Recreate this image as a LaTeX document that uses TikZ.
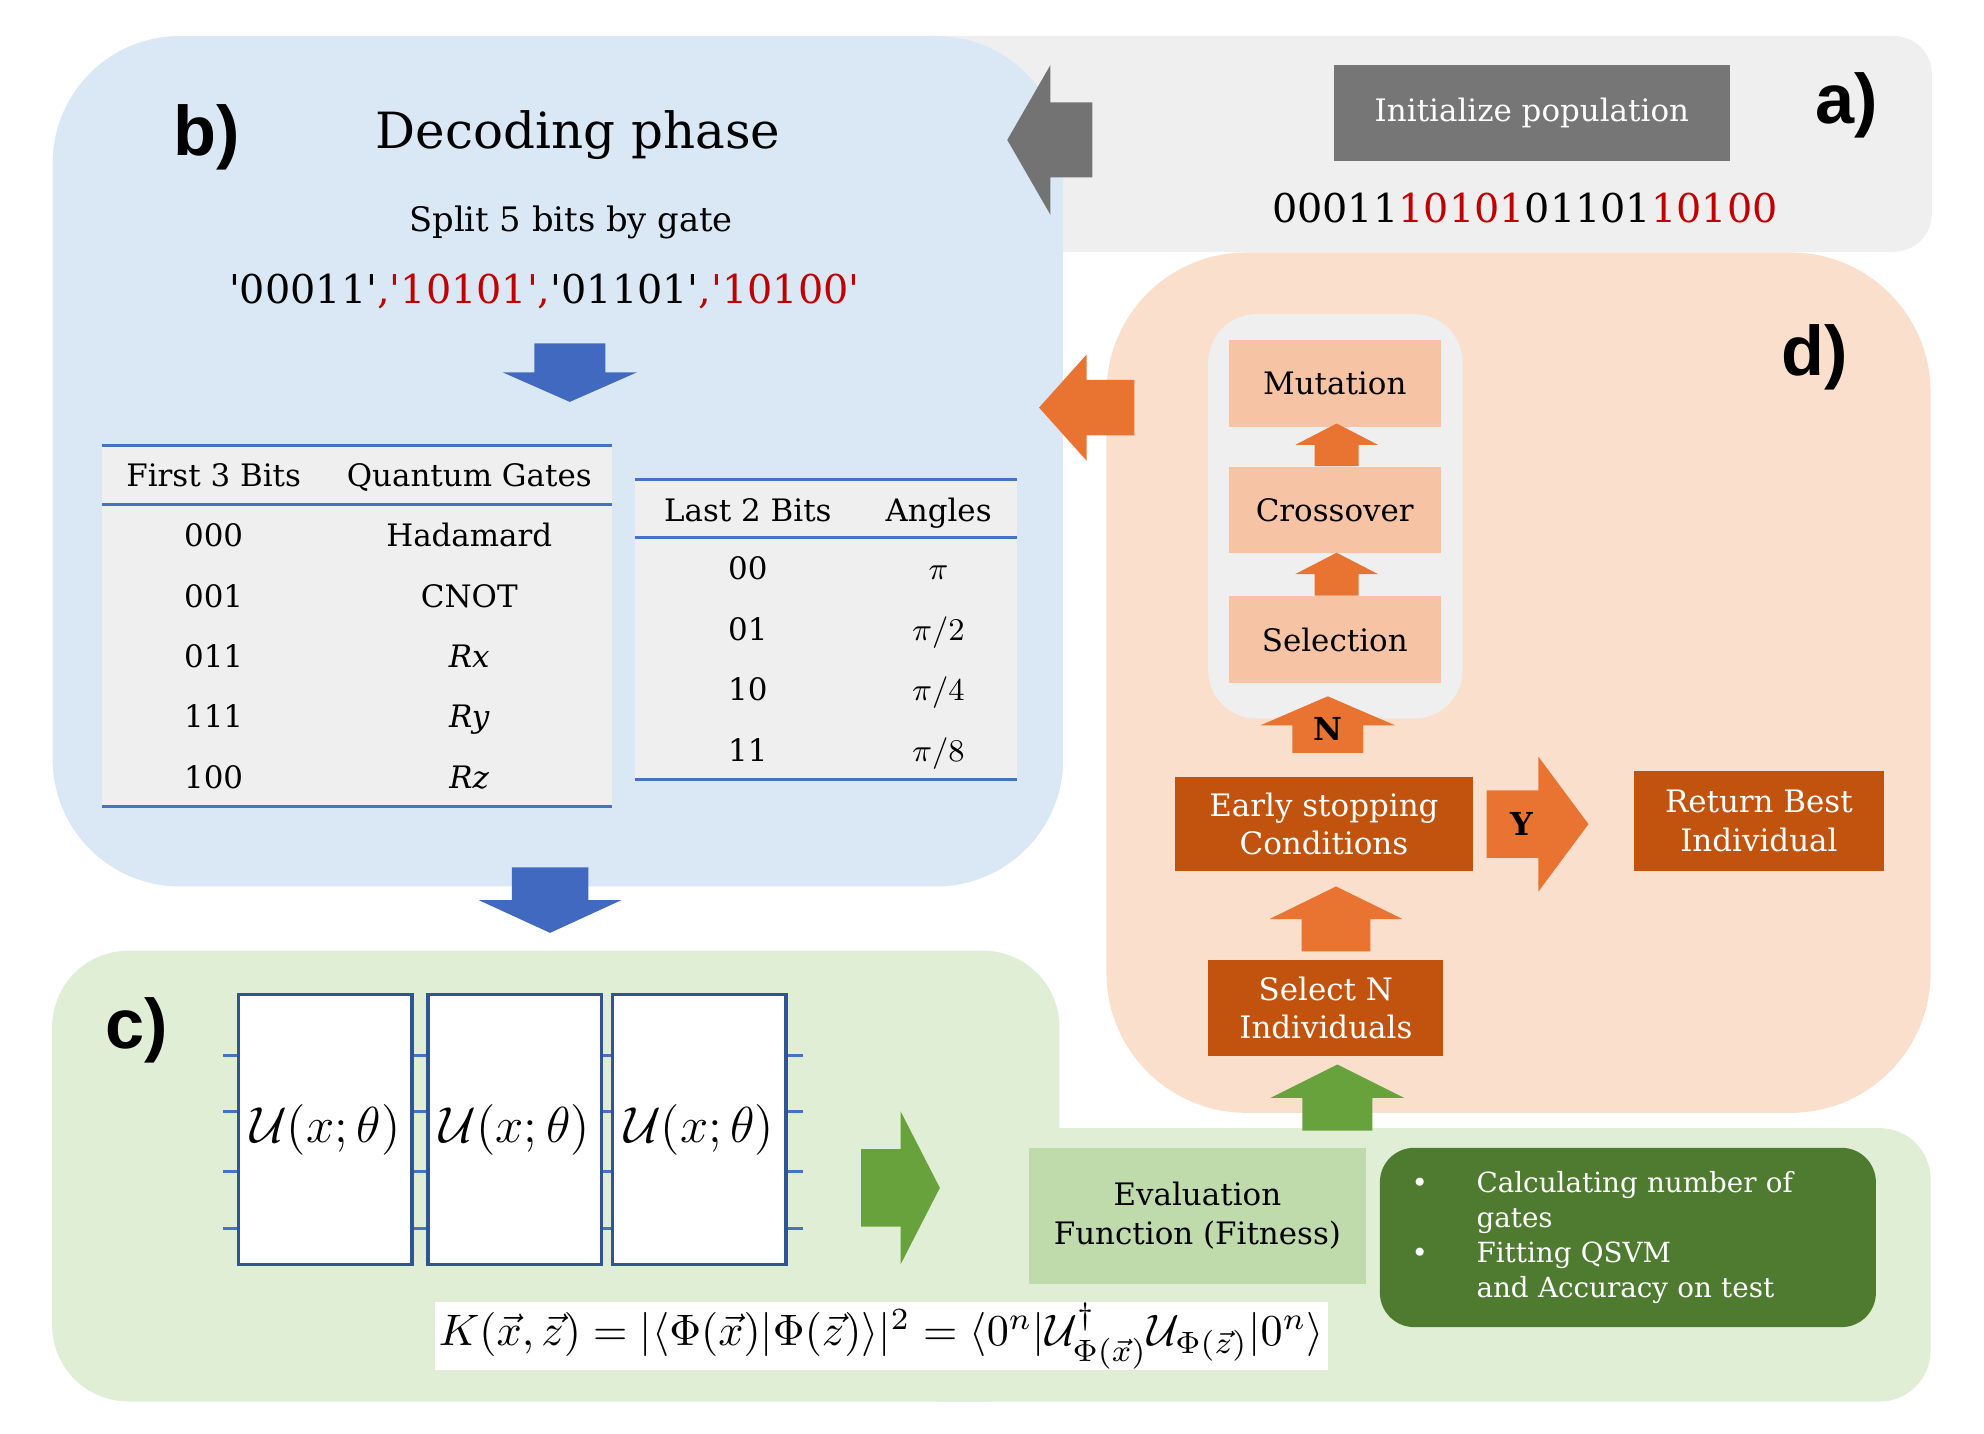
\documentclass[tikz,border=0pt]{standalone}
\usepackage[no-math]{fontspec}
\setmainfont{DejaVu Serif}
\setsansfont{Liberation Sans}
\usepackage{graphicx}
\usetikzlibrary{shapes.arrows,positioning}

\definecolor{graybg}{HTML}{EFEFEF}
\definecolor{bluebg}{HTML}{DAE8F5}
\definecolor{orangebg}{HTML}{FADFCD}
\definecolor{greenbg}{HTML}{E0EED6}
\definecolor{initgray}{HTML}{767676}
\definecolor{grayarrow}{HTML}{737373}
\definecolor{bitred}{HTML}{C00000}
\definecolor{bluearrow}{HTML}{4169BF}
\definecolor{rulecol}{HTML}{4472C4}
\definecolor{circblue}{HTML}{2F5597}
\definecolor{orangearrow}{HTML}{E97331}
\definecolor{lightorange}{HTML}{F6C4A4}
\definecolor{darkorange}{HTML}{C1530F}
\definecolor{greenarrow}{HTML}{67A23D}
\definecolor{evalgreen}{HTML}{BFDBAB}
\definecolor{darkgreen}{HTML}{4E7B30}

\newlength\pxu
\setlength\pxu{0.127179mm}
\newcommand{\tq}{\textquotesingle}

\tikzset{
  panel/.style={font=\sffamily\bfseries\fontsize{20}{24}\selectfont, inner sep=0pt},
  boxtext/.style={inner sep=0pt, align=center, font=\fontsize{8.8}{11}\selectfont},
  cell/.style={inner sep=0pt, anchor=base, font=\fontsize{8.8}{11}\selectfont},
  bits/.style={inner sep=0pt, anchor=base, font=\fontsize{11.3}{13}\selectfont},
  gastep/.style={boxtext, fill=lightorange, minimum width=167*\pxu, minimum height=68*\pxu},
  gadark/.style={boxtext, fill=darkorange, text=white},
  ubox/.style={draw=circblue, line width=0.9pt, fill=white, inner sep=0pt,
    minimum width=136.5*\pxu, minimum height=212.5*\pxu, font=\fontsize{14.3}{17}\selectfont},
  wire/.style={draw=rulecol, line width=0.7pt},
  rule/.style={draw=rulecol, line width=0.9pt},
  yn/.style={inner sep=0pt, font=\bfseries\fontsize{9}{11}\selectfont},
  blockarrow/.style n args={4}{single arrow, draw=none, outer sep=0pt, anchor=tail,
    minimum height=#1*\pxu, minimum width=#2*\pxu, single arrow head extend=#3*\pxu,
    single arrow tip angle=#4},
  harrow/.style n args={5}{blockarrow={#1}{#2}{#4}{#5}, inner xsep=0pt, inner ysep=#3*\pxu},
  varrow/.style n args={5}{blockarrow={#1}{#2}{#4}{#5}, inner xsep=#3*\pxu, inner ysep=0pt},
}

\begin{document}
\begin{tikzpicture}[x=0.127179mm, y=-0.127179mm]
\useasboundingbox (0,0) rectangle (1560,1127.4);

% panels
\fill[graybg, rounded corners=30*\pxu] (700,28.3) rectangle (1519,198);
\fill[bluebg, rounded corners=100*\pxu] (41.4,28.3) rectangle (836,697);
\fill[orangebg, rounded corners=110*\pxu] (870,198.5) rectangle (1518,875);
\fill[greenbg, rounded corners=60*\pxu] (41,747.5) rectangle (833,1102);
\fill[greenbg, rounded corners=40*\pxu] (700,887) rectangle (1518,1102);

\node[panel] (pa) at (1452,83) {a)};
\node[panel] (pb) at (162.5,108) {b)};
\node[panel] (pc) at (107.5,810) {c)};
\node[panel] (pd) at (1427,281) {d)};

% a) population
\node[boxtext, fill=initgray, text=white, minimum width=311*\pxu, minimum height=75.6*\pxu] (init) at (1204.5,88.8) {Initialize population};
\node[bits] (chrom) at (1199,175) {00011\textcolor{bitred}{10101}01101\textcolor{bitred}{10100}};
\node[harrow={67}{116.7}{29}{29.35}{120.1}, fill=grayarrow, shape border rotate=180] (toDecode) at (859,110) {};

% b) decoding phase
\node[inner sep=0pt, anchor=base, font=\fontsize{14.2}{17}\selectfont] (title) at (454.5,116.7) {Decoding phase};
\node[inner sep=0pt, anchor=base, font=\fontsize{9.6}{12}\selectfont] (split) at (449,182) {Split 5 bits by gate};
\node[bits] (genes) at (428,238.5) {\tq00011\tq\textcolor{bitred}{,\tq10101\tq,}\tq01101\tq\textcolor{bitred}{,\tq10100\tq}};
\node[varrow={46}{104.5}{27.35}{24.9}{132.5}, fill=bluearrow, shape border rotate=270] (toTable) at (448,270) {};

% gate table
\fill[graybg] (80,350) rectangle (481.5,634);
\draw[rule] (80,350) -- (481.5,350) (80,397) -- (481.5,397) (80,634) -- (481.5,634);
\node[cell] (hbits) at (168,382.7) {First 3 Bits};
\node[cell] (hgate) at (369,382.7) {Quantum Gates};
\foreach \b/\g [count=\i from 0] in {000/Hadamard, 001/CNOT, 011/{\textit{Rx}}, 111/{\textit{Ry}}, 100/{\textit{Rz}}}{
  \node[cell] (bits\i) at (168,{429.8+47.5*\i}) {\b};
  \node[cell] (gate\i) at (369,{429.8+47.5*\i}) {\g};
}

% angle table
\fill[graybg] (499,376.8) rectangle (800,613);
\draw[rule] (499,376.8) -- (800,376.8) (499,422.7) -- (800,422.7) (499,613) -- (800,613);
\node[cell] (hlast) at (588,410.2) {Last 2 Bits};
\node[cell] (hangle) at (738,410.2) {Angles};
\foreach \b/\a [count=\i from 0] in {00/{$\pi$}, 01/{$\pi/2$}, 10/{$\pi/4$}, 11/{$\pi/8$}}{
  \node[cell] (last\i) at (588,{455.9+47.63*\i}) {\b};
  \node[cell] (angle\i) at (738,{455.9+47.63*\i}) {\a};
}
\node[varrow={51.5}{111}{29.5}{26}{130.7}, fill=bluearrow, shape border rotate=270] (toCircuit) at (432.5,682) {};

% c) circuit
\node[ubox] (u1) at (255.75,888.25) {$\mathcal{U}(x;\theta)$};
\node[ubox] (u2) at (404.75,888.25) {$\mathcal{U}(x;\theta)$};
\node[ubox] (u3) at (549.75,888.25) {$\mathcal{U}(x;\theta)$};
\foreach \y [count=\i] in {830,874,921,966}{
  \coordinate (qin\i) at (175.5,\y);
  \coordinate (qout\i) at (631.5,\y);
  \draw[wire] (qin\i) -- (u1.west |- qin\i);
  \draw[wire] (u1.east |- qin\i) -- (u2.west |- qin\i);
  \draw[wire] (u2.east |- qin\i) -- (u3.west |- qin\i);
  \draw[wire] (u3.east |- qin\i) -- (qout\i);
}
\node[harrow={62}{119}{30}{29.5}{125.7}, fill=greenarrow] (toEval) at (677,934) {};
\node[fill=white, inner sep=0pt, minimum width=702*\pxu, minimum height=53*\pxu] (kernel) at (693,1050.5)
  {\resizebox{696\pxu}{!}{$K(\vec{x},\vec{z}) = |\langle\Phi(\vec{x})|\Phi(\vec{z})\rangle|^2 = \langle 0^n|\mathcal{U}^\dagger_{\Phi(\vec{x})}\mathcal{U}_{\Phi(\vec{z})}|0^n\rangle$}};

\node[boxtext, fill=evalgreen, minimum width=265*\pxu, minimum height=107*\pxu] (eval) at (941.5,956) {Evaluation\\Function (Fitness)};
\node[fill=darkgreen, text=white, rounded corners=27*\pxu, inner sep=0pt, align=left,
  text width=340*\pxu, minimum width=390*\pxu, minimum height=141*\pxu,
  font=\fontsize{7.9}{10}\selectfont] (metrics) at (1280,973)
  {\makebox[51\pxu][l]{\textbullet}Calculating number of\\
   \hspace*{51\pxu}gates\\
   \makebox[51\pxu][l]{\textbullet}Fitting QSVM\\
   \hspace*{51\pxu}and Accuracy on test};

% d) genetic loop
\fill[graybg, rounded corners=38*\pxu] (950,247) rectangle (1150,565);
\node[gastep, minimum height=69*\pxu] (mutation) at (1049.5,301.5) {Mutation};
\node[gastep] (crossover) at (1049.5,401) {Crossover};
\node[gastep] (selection) at (1049.5,503) {Selection};
\node[varrow={33.6}{64}{16.7}{15.3}{125.4}, fill=orangearrow, shape border rotate=90] (cx2mut) at (1051,366.6) {};
\node[varrow={33.8}{64}{16.7}{15.3}{125.4}, fill=orangearrow, shape border rotate=90] (sel2cx) at (1051,468.4) {};
\node[harrow={75}{82.6}{21.25}{20.05}{96.3}, fill=orangearrow, shape border rotate=180] (toDecode2) at (892,320.5) {};

\node[gadark, minimum width=234*\pxu, minimum height=74*\pxu] (stop) at (1041,648) {Early stopping\\Conditions};
\node[gadark, minimum width=196*\pxu, minimum height=79*\pxu] (best) at (1383,645.5) {Return Best\\Individual};
\node[gadark, minimum width=185*\pxu, minimum height=75*\pxu] (selectn) at (1042.5,792.5) {Select N\\Individuals};

\node[varrow={44.5}{104.6}{27.3}{25}{133.4}, fill=orangearrow, shape border rotate=90] (no) at (1044,592) {};
\node[yn] (nlab) at (1044,573) {N};
\node[harrow={80}{105}{26}{26.5}{106.8}, fill=orangearrow] (yes) at (1169,648) {};
\node[yn] (ylab) at (1196.6,648) {Y};
\node[varrow={51}{104}{26.5}{25.5}{127.8}, fill=orangearrow, shape border rotate=90] (toStop) at (1050.5,748) {};
\node[varrow={52}{104}{27}{25}{126.9}, fill=greenarrow, shape border rotate=90] (toSelect) at (1051.5,889) {};
\end{tikzpicture}
\end{document}
